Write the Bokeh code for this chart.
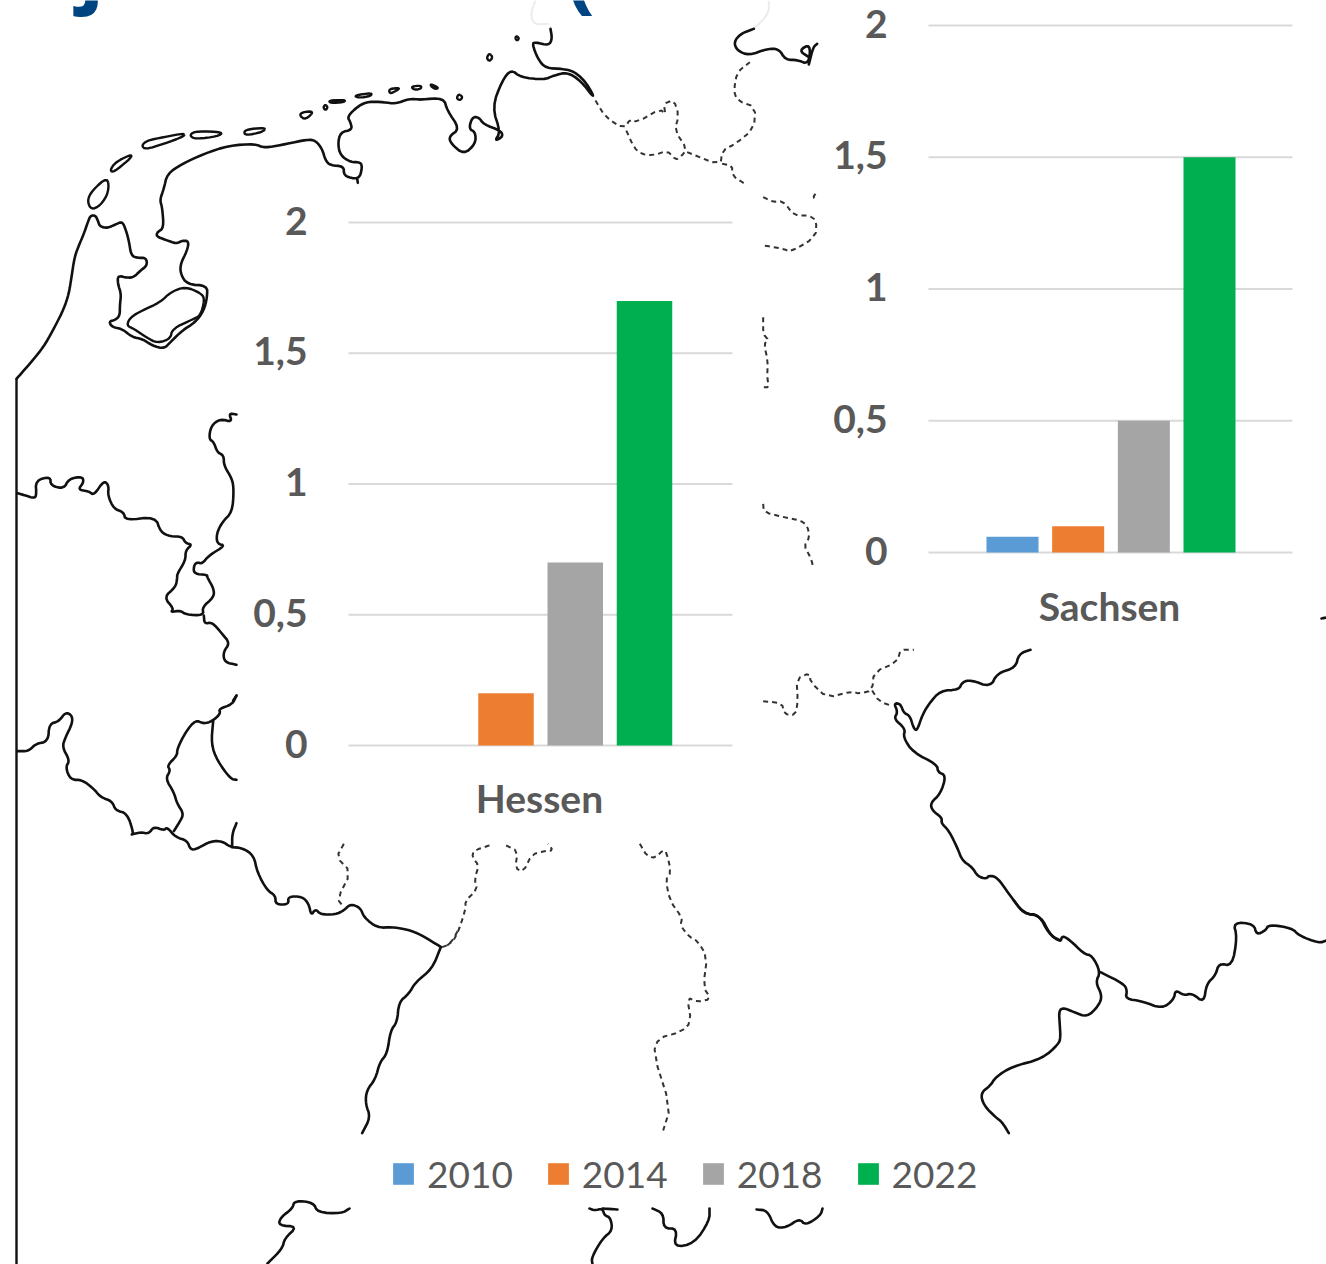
from bokeh.plotting import figure
from bokeh.models import Range1d, Legend, LegendItem, ColumnDataSource
from bokeh.core.properties import value
from bokeh.embed import file_html
from bokeh.resources import INLINE

# ---------- chart data ----------
years = ["2010", "2014", "2018", "2022"]
colors = ["#5b9bd5", "#ed7d31", "#a5a5a5", "#00b050"]
hessen_values = [0.0, 0.2, 0.7, 1.7]
sachsen_values = [0.06, 0.1, 0.5, 1.5]
ticks = [0, 0.5, 1, 1.5, 2]
tick_labels = ["0", "0,5", "1", "1,5", "2"]

# ---------- map outlines as (origin x, origin y, scale, points) ----------
solid_paths = [
 (0,0,3,[(48,1135),(105,1070),(135,1030),(165,975),(190,925),(205,880),(213,830),(222,770),(235,735),(250,700),(262,665),(270,645),(285,645),(292,660),(298,678),(320,683),(345,672),(365,663),(375,685),(385,720),(392,765),(410,772),(437,772),(440,795),(420,810),(400,830),(380,832),(352,825),(352,850),(362,880),(358,915),(358,945),(345,958),(325,963),(335,980),(365,985),(395,1010),(425,1015),(455,1035),(490,1045),(510,1025),(545,990),(585,965),(610,930),(620,890),(620,855),(560,852),(540,820),(540,790),(560,750),(565,722),(545,720),(528,730),(495,718),(468,708),(470,695),(490,683),(485,620),(478,598),(490,565),(500,520),(545,490),(610,460),(685,435),(765,430),(790,443),(860,430),(920,417),(945,420),(965,445),(975,480),(990,495),(1030,497),(1030,525),(1060,535),(1078,530),(1085,500),(1080,485),(1050,485),(1020,465),(1012,430),(1020,395),(1055,388),(1050,365),(1040,348),(1075,315),(1105,303),(1150,305),(1185,310),(1225,295),(1260,297)]),
 (0,0,3,[(1070,535),(1072,547)]),
 (420,0,3,[(0,297),(70,292),(80,330),(118,385),(85,408),(92,430),(130,462),(165,430),(165,395),(145,385),(155,350),(175,350),(190,372),(240,390),(248,408),(222,422),(240,395),(215,320),(245,240),(272,207),(300,230),(370,238),(400,225),(440,215),(480,240),(525,298),(500,250),(465,215),(430,205),(375,203),(352,175),(335,130),(345,125),(385,135),(395,115),(390,85)]),
 (420,0,3,[(1000,85),(960,100),(940,125),(950,150),(985,165),(1040,145),(1075,145),(1095,178),(1130,178),(1165,192),(1170,130),(1135,150),(1165,170)]),
 (420,0,3,[(1165,192),(1178,140),(1190,130)]),
 (0,400,3,[(50,278),(75,285),(100,293),(108,285),(105,240),(150,228),(150,255),(190,265),(205,235),(245,228),(250,245),(232,268),(265,272),(280,285),(310,240),(325,255),(322,285),(340,325),(370,335),(375,360),(465,348),(480,395),(510,408),(545,408),(555,428),(575,432),(555,450),(555,480),(530,520),(530,535),(525,560),(490,590),(520,625),(510,635),(540,630),(555,642),(610,645),(605,620),(640,590),(640,565),(620,530),(620,523),(580,520),(580,495),(590,485),(605,490),(625,465),(675,435),(650,430),(648,400),(665,365),(695,335),(700,270),(695,235),(670,195),(670,165),(650,155),(640,125),(625,115),(632,75),(660,55),(695,65),(685,38),(708,42)]),
 (0,400,3,[(610,645),(612,670),(635,665),(665,700),(688,728),(668,755),(672,785),(708,793)]),
 (0,400,3,[(708,885),(698,900)]),
 (0,690,3,[(50,182),(85,182),(105,160),(143,153),(146,100),(175,93),(195,65),(215,75),(215,100),(195,140),(185,170),(208,210),(195,230),(210,268),(245,268),(280,295),(300,320),(335,332),(345,360),(380,368),(400,430),(390,433),(420,425),(445,430),(460,408),(490,420),(500,410),(525,440),(560,450),(570,478),(590,475),(630,452),(665,452),(690,470),(725,472),(760,495),(770,545),(800,600),(825,615),(825,642),(865,642),(862,618),(905,618),(925,640),(932,675),(945,655),(960,672),(1005,672),(1030,660),(1050,640),(1080,652),(1090,680),(1130,712),(1175,710),(1210,715),(1235,722),(1265,735),(1322,770)]),
 (0,690,3,[(520,422),(537,395),(550,370),(530,340),(520,305),(495,265),(510,240),(500,225),(530,195),(530,175),(555,125),(585,88),(610,100),(635,92),(660,70),(655,55),(695,42),(708,15)]),
 (0,690,3,[(638,92),(632,160),(650,210),(690,265),(708,268)]),
 (0,690,3,[(695,470),(695,430),(708,398)]),
 (340,830,3,[(300,352),(275,415),(225,455),(205,490),(175,515),(170,575),(150,600),(140,670),(118,695),(105,745),(78,780),(75,820),(90,860),(65,908)]),
 (750,640,3,[(840,28),(805,40),(795,82),(740,98),(720,140),(660,118),(635,125),(625,148),(570,150),(535,190),(515,225),(500,270),(490,265),(478,225),(460,218),(450,190),(430,188),(442,215),(430,235),(465,265),(458,290),(487,335),(560,372),(562,395),(587,405),(570,460),(540,487),(545,510),(575,532),(572,548),(595,570),(622,625),(635,660),(665,680),(682,708),(708,715),(715,705),(740,710),(775,760),(820,820),(870,825),(900,885),(930,900)]),
 (960,900,3,[(160,0),(190,40),(235,42),(265,100),(300,125),(305,105),(330,120),(370,160),(395,165),(420,215),(405,245),(425,285),(415,315),(380,350),(340,335),(310,322),(295,330),(298,375),(300,410),(295,430),(245,475),(155,498),(105,530),(90,555),(60,578),(70,615),(105,650),(125,665),(145,698)]),
 (960,900,3,[(420,215),(490,250),(500,270),(495,295),(545,302),(605,325),(640,297),(645,268),(670,285),(695,278),(730,307),(738,250),(765,225),(775,188),(815,197),(830,110),(818,65),(880,70),(888,103),(915,90),(925,72),(995,83),(1015,105),(1075,128),(1098,120)]),
 (0,0,1,[(349,1208),(341,1213),(317,1212),(313,1202),(294,1200),(292,1208),(280,1217),(278,1225),(297,1226),(284,1238),(282,1248),(267,1263)]),
 (0,0,1,[(589,1208),(594,1210),(602,1208),(604,1215),(610,1217),(612,1230),(602,1238),(591,1257),(592,1264)]),
 (0,0,1,[(602,1208),(617,1209)]),
 (0,0,1,[(652,1208),(663,1213),(663,1228),(677,1228),(673,1247),(694,1243),(709,1220),(709,1208)]),
 (0,0,1,[(756,1209),(767,1210),(774,1227),(786,1227),(799,1218),(805,1225),(820,1215),(822,1208)]),
 (0,0,1,[(1321,618),(1326,617)]),
]
straight_paths = [[(16, 378), (16, 1264)]]
closed_paths = [
 (0,0,3,[(322,528),(325,575),(300,615),(272,628),(260,600),(275,570)]),
 (0,0,3,[(395,465),(385,478),(340,515),(328,510),(345,485),(385,465)]),
 (0,0,3,[(553,398),(550,408),(490,430),(435,447),(423,435),(440,420),(490,410)]),
 (0,0,3,[(570,400),(590,392),(670,395),(650,408),(590,415),(572,410)]),
 (0,0,3,[(798,382),(785,395),(735,405),(730,392),(750,385)]),
 (0,0,3,[(942,332),(915,358),(897,345),(905,335)]),
 (0,0,3,[(975,312),(982,320),(975,330),(968,320)]),
 (0,0,3,[(985,300),(1035,298),(1030,305),(990,308)]),
 (0,0,3,[(1060,285),(1115,277),(1110,287),(1075,292)]),
 (0,0,3,[(1165,265),(1200,262),(1185,272),(1168,280)]),
 (0,0,3,[(1232,258),(1262,255),(1262,265),(1240,268)]),
 (420,0,3,[(30,250),(55,262),(45,266),(32,258)]),
 (420,0,3,[(115,280),(127,290),(118,300),(108,293)]),
 (420,0,3,[(207,158),(217,170),(207,183),(198,172)]),
 (420,0,3,[(288,106),(296,113),(290,121),(284,113)]),
 (0,0,3,[(555,858),(605,880),(612,900),(600,945),(580,955),(515,985),(510,1015),(470,1028),(440,1012),(400,985),(378,975),(390,950),(425,930),(480,905),(510,875)]),
]
dashed_paths = [
 (420,0,3,[(525,300),(555,350),(610,385),(630,355),(650,365),(720,325),(735,345),(730,310),(760,298),(775,345),(762,390),(800,445),(780,470),(765,478),(740,450),(700,465),(660,460),(640,440),(615,385)]),
 (420,0,3,[(800,455),(900,495),(905,450),(945,430),(1000,385),(1005,320),(950,300),(940,270),(950,215),(988,185)]),
 (420,0,3,[(905,490),(935,495),(935,525),(970,548)]),
 (750,180,3,[(38,50),(70,65),(85,60),(105,70),(130,105),(175,105),(198,120),(195,170),(120,215),(100,205),(40,195)]),
 (750,180,3,[(195,40),(188,50),(198,62)]),
 (750,180,3,[(38,410),(38,460),(55,480),(40,490),(52,540),(50,590),(55,620),(40,620)]),
 (750,180,3,[(38,970),(40,995),(100,1010),(150,1020),(170,1035),(178,1070),(160,1095),(180,1130),(190,1165)]),
 (0,690,3,[(1030,460),(1008,500),(1052,545),(1010,625),(1030,650)]),
 (0,690,3,[(1325,770),(1350,760),(1378,710)]),
 (340,830,3,[(320,345),(345,325),(375,240),(375,210),(410,178),(402,145),(415,105),(395,80),(400,60),(455,42)]),
 (340,830,3,[(497,45),(532,62),(524,112),(548,125),(574,72),(610,62),(638,60),(622,40)]),
 (340,830,3,[(898,40),(920,78),(945,82),(968,58),(978,65),(992,125),(975,145),(988,210),(1025,262),(1020,285),(1045,318),(1070,330),(1100,378),(1088,470),(1112,505),(1070,515),(1040,500),(1052,575),(1020,605),(955,622),(938,668),(990,830),(968,900)]),
 (750,640,3,[(38,182),(95,188),(100,220),(135,225),(142,180),(138,115),(178,97),(180,125),(230,172),(305,152),(325,160),(365,150),(370,95),(440,65),(450,28),(490,28)]),
 (750,640,3,[(365,150),(385,182),(425,197)]),
]
faint_paths = [
 (420,0,3,[(345,0),(330,40),(340,72),(385,70)]),
 (420,0,3,[(1045,0),(1045,40),(1000,85)]),
]


def page(entry):
    ox, oy, s, pts = entry
    return [(ox + a / s, oy + b / s) for a, b in pts]


def soften(pts, closed=False, rounds=2):
    """Corner cutting so the traced outlines read as curves."""
    for _ in range(rounds):
        out = [] if closed else [pts[0]]
        n = len(pts)
        for i in range(n if closed else n - 1):
            a, b = pts[i], pts[(i + 1) % n]
            out.append((0.75 * a[0] + 0.25 * b[0], 0.75 * a[1] + 0.25 * b[1]))
            out.append((0.25 * a[0] + 0.75 * b[0], 0.25 * a[1] + 0.75 * b[1]))
        if not closed:
            out.append(pts[-1])
        pts = out
    return pts


def x_px_range(v0, px0, v1, px1, size):
    per = (v1 - v0) / (px1 - px0)
    return Range1d(v0 - px0 * per, v0 + (size - px0) * per)


def y_px_range(v0, px0, v1, px1, size):
    per = (v1 - v0) / (px1 - px0)
    return Range1d(v0 + (size - px0) * per, v0 - px0 * per)


W, H = 1326, 1264
p = figure(width=W, height=H, x_range=Range1d(0, W), y_range=Range1d(H, 0),
           output_backend="svg", toolbar_location=None, min_border=0,
           outline_line_color=None, background_fill_color="white",
           border_fill_color="white")
p.xaxis.visible = False
p.yaxis.visible = False
p.grid.visible = False

FONT = value("Lato")
GREY = "#595959"

# title remnants
p.text(x=[91], y=[-36], text=["j"], text_font=value("Open Sans"), text_font_style="bold",
       text_font_size="84px", text_color="#004481", text_align="center", text_baseline="alphabetic")
p.text(x=[580], y=[-30], text=["("], text_font=value("Open Sans"), text_font_style="bold",
       text_font_size="84px", text_color="#004481", text_align="center", text_baseline="alphabetic")

# map
for e in faint_paths:
    pts = soften(page(e))
    p.line([a for a, _ in pts], [b for _, b in pts], line_color="#ececec", line_width=2)
for e in solid_paths:
    pts = soften(page(e))
    p.line([a for a, _ in pts], [b for _, b in pts], line_color="#111111", line_width=2.6,
           line_join="round", line_cap="round")
for pts in straight_paths:
    p.line([a for a, _ in pts], [b for _, b in pts], line_color="#111111", line_width=2.4)
for e in closed_paths:
    pts = soften(page(e), closed=True)
    pts = pts + [pts[0]]
    p.line([a for a, _ in pts], [b for _, b in pts], line_color="#111111", line_width=2.4,
           line_join="round")
for e in dashed_paths:
    pts = soften(page(e), rounds=1)
    p.line([a for a, _ in pts], [b for _, b in pts], line_color="#333333", line_width=2,
           line_dash="5 4")


def panel(key, category, vals, y0_px, y2_px, slot0_px, slot3_px, bar_px, grid_x0, grid_x1, tick_right, cat_x, cat_y):
    step = (slot3_px - slot0_px) / 3
    p.extra_y_ranges[key] = y_px_range(0, y0_px, 2, y2_px, H)
    p.extra_x_ranges[key] = x_px_range(0, slot0_px, 3, slot3_px, W)
    p.segment(x0=[grid_x0] * len(ticks), x1=[grid_x1] * len(ticks), y0=ticks, y1=ticks,
              y_range_name=key, line_color="#d9d9d9", line_width=2)
    rs = []
    for i, yr in enumerate(years):
        src = ColumnDataSource(dict(x=[i], top=[vals[i]], bottom=[0]))
        rs.append(p.vbar(x="x", top="top", bottom="bottom", width=bar_px / step, source=src,
                         x_range_name=key, y_range_name=key, fill_color=colors[i], line_color=None))
    p.text(x=[tick_right] * len(ticks), y=ticks, text=tick_labels, y_range_name=key, y_offset=-2,
           text_font=FONT, text_font_style="bold", text_font_size="39px", text_color=GREY,
           text_align="right", text_baseline="middle")
    p.text(x=[cat_x], y=[cat_y], text=[category], text_font=FONT, text_font_style="bold",
           text_font_size="39px", text_color=GREY, text_align="center", text_baseline="middle")
    return rs


h = panel("hessen", "Hessen", hessen_values, 745, 222, 436.25, 644, 55.5, 348, 732, 307, 539, 797)
s = panel("sachsen", "Sachsen", sachsen_values, 552, 25, 1012, 1209, 52, 928, 1292, 887, 1109, 605)

legend = Legend(items=[LegendItem(label=y, renderers=[r]) for y, r in zip(years, s)],
                orientation="horizontal", location=(390, 68), background_fill_alpha=0,
                border_line_color=None, glyph_width=26, glyph_height=27, label_standoff=11,
                spacing=32, padding=12, margin=0, label_text_font="Lato",
                label_text_font_size="37px", label_text_color=GREY, label_height=30)
p.add_layout(legend)

open("out.html", "w").write(file_html(p, INLINE))
